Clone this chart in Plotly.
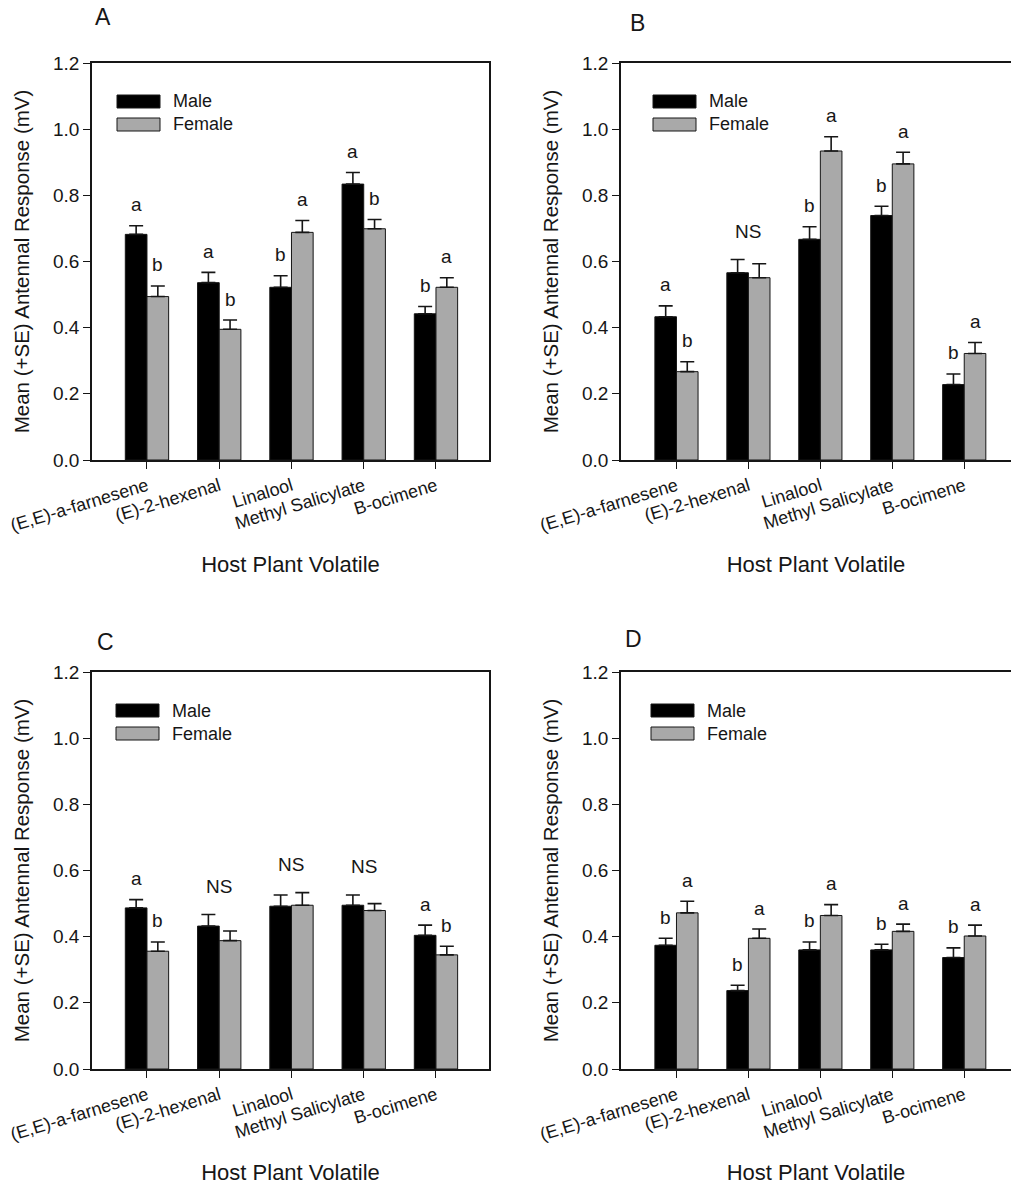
import plotly.graph_objects as go

# ---- data -----------------------------------------------------------------
categories = ["(E,E)-a-farnesene", "(E)-2-hexenal", "Linalool",
              "Methyl Salicylate", "B-ocimene"]
y_ticks = [0.0, 0.2, 0.4, 0.6, 0.8, 1.0, 1.2]
series_names = ["Male", "Female"]
panel_names = ["A", "B", "C", "D"]

a_male = [0.682, 0.536, 0.522, 0.834, 0.442]
a_male_se = [0.026, 0.031, 0.035, 0.035, 0.022]
a_female = [0.494, 0.395, 0.688, 0.699, 0.522]
a_female_se = [0.032, 0.028, 0.036, 0.028, 0.029]
a_male_sig = ["a", "a", "b", "a", "b"]
a_female_sig = ["b", "b", "a", "b", "a"]
a_group_sig = ["", "", "", "", ""]

b_male = [0.433, 0.566, 0.667, 0.739, 0.228]
b_male_se = [0.033, 0.040, 0.038, 0.028, 0.032]
b_female = [0.267, 0.551, 0.934, 0.895, 0.322]
b_female_se = [0.030, 0.042, 0.043, 0.035, 0.033]
b_male_sig = ["a", "", "b", "b", "b"]
b_female_sig = ["b", "", "a", "a", "a"]
b_group_sig = ["", "NS", "", "", ""]

c_male = [0.487, 0.432, 0.492, 0.495, 0.404]
c_male_se = [0.025, 0.035, 0.034, 0.031, 0.031]
c_female = [0.356, 0.388, 0.495, 0.479, 0.345]
c_female_se = [0.028, 0.029, 0.038, 0.021, 0.026]
c_male_sig = ["a", "", "", "", "a"]
c_female_sig = ["b", "", "", "", "b"]
c_group_sig = ["", "NS", "NS", "NS", ""]

d_male = [0.374, 0.237, 0.360, 0.360, 0.337]
d_male_se = [0.021, 0.016, 0.024, 0.017, 0.029]
d_female = [0.472, 0.395, 0.464, 0.416, 0.402]
d_female_se = [0.035, 0.028, 0.033, 0.022, 0.033]
d_male_sig = ["b", "b", "b", "b", "b"]
d_female_sig = ["a", "a", "a", "a", "a"]
d_group_sig = ["", "", "", "", ""]

panels = [
    (a_male, a_male_se, a_female, a_female_se, a_male_sig, a_female_sig, a_group_sig),
    (b_male, b_male_se, b_female, b_female_se, b_male_sig, b_female_sig, b_group_sig),
    (c_male, c_male_se, c_female, c_female_se, c_male_sig, c_female_sig, c_group_sig),
    (d_male, d_male_se, d_female, d_female_se, d_male_sig, d_female_sig, d_group_sig),
]

# ---- layout geometry (pixels) ---------------------------------------------
W, H = 1011, 1185
FONT = "Liberation Sans, Arial, sans-serif"
INK = "#161616"
GREY = "#a9a9a9"

# plot boxes: left, top, right, bottom
boxes = [(92, 63, 489, 460), (621, 63, 1011, 460),
         (92, 672, 489, 1069), (621, 672, 1011, 1069)]
x_ranges = [(-0.761, 4.734), (-0.771, 4.65), (-0.761, 4.734), (-0.771, 4.65)]
letter_pos = [(103, 17), (637, 23), (105, 642), (633, 639)]
legend_left = [25, 32, 24, 30]

BAR_W = 0.3

fig = go.Figure()
annotations = []
shapes = []

for i, (m, mse, f, fse, msig, fsig, gsig) in enumerate(panels):
    n = "" if i == 0 else str(i + 1)
    xa, ya = "x" + n, "y" + n
    left, top, right, bottom = boxes[i]

    fig.add_trace(go.Bar(
        x=list(range(len(categories))), y=m, name=series_names[0],
        width=BAR_W, offset=-BAR_W, xaxis=xa, yaxis=ya, showlegend=False,
        marker=dict(color="#000000", line=dict(color=INK, width=1)),
        error_y=dict(type="data", array=mse, arrayminus=[0] * len(mse),
                     symmetric=False, color=INK, thickness=1.6, width=7),
    ))
    fig.add_trace(go.Bar(
        x=list(range(len(categories))), y=f, name=series_names[1],
        width=BAR_W, offset=0, xaxis=xa, yaxis=ya, showlegend=False,
        marker=dict(color=GREY, line=dict(color=INK, width=1)),
        error_y=dict(type="data", array=fse, arrayminus=[0] * len(fse),
                     symmetric=False, color=INK, thickness=1.6, width=7),
    ))

    # significance letters above each bar's error cap
    for k in range(len(categories)):
        for val, se, lab, dx in ((m[k], mse[k], msig[k], -BAR_W / 2),
                                 (f[k], fse[k], fsig[k], BAR_W / 2)):
            if lab:
                annotations.append(dict(
                    x=k + dx, y=val + se, xref=xa, yref=ya, text=lab,
                    showarrow=False, yanchor="middle", yshift=21,
                    font=dict(family=FONT, size=19, color=INK)))
        if gsig[k]:
            top_val = max(m[k] + mse[k], f[k] + fse[k])
            annotations.append(dict(
                x=k, y=top_val, xref=xa, yref=ya, text=gsig[k],
                showarrow=False, yanchor="middle", yshift=28,
                font=dict(family=FONT, size=19, color=INK)))

    # legend keys
    pw, ph = right - left, bottom - top
    lx0 = legend_left[i]
    for j, (name, col) in enumerate(zip(series_names, ["#000000", GREY])):
        y0 = 32 + j * 23
        shapes.append(dict(
            type="rect", xref=xa + " domain", yref=ya + " domain",
            x0=lx0 / pw, x1=(lx0 + 43) / pw,
            y0=1 - y0 / ph, y1=1 - (y0 + 13) / ph,
            fillcolor=col, line=dict(color=INK, width=1)))
        annotations.append(dict(
            x=(lx0 + 54) / pw, y=1 - (y0 + 6.5) / ph,
            xref=xa + " domain", yref=ya + " domain", text=name,
            showarrow=False, xanchor="left", yanchor="middle",
            font=dict(family=FONT, size=18, color=INK)))

    # panel letter
    lx, ly = letter_pos[i]
    annotations.append(dict(
        x=lx / W, y=1 - ly / H, xref="paper", yref="paper", text=panel_names[i],
        showarrow=False, xanchor="center", yanchor="middle",
        font=dict(family=FONT, size=23, color=INK)))

    right_open = right >= W
    fig.layout["xaxis" + n] = dict(
        domain=[left / W, right / W], anchor=ya, range=list(x_ranges[i]),
        automargin=False,
        tickmode="array", tickvals=list(range(len(categories))),
        ticktext=categories, tickangle=-17, ticks="outside", ticklen=7,
        tickwidth=1.3, tickcolor=INK, showline=True, linecolor=INK,
        linewidth=1.5, mirror=True, showgrid=False, zeroline=False,
        tickfont=dict(family=FONT, size=18, color=INK),
        title=dict(text="Host Plant Volatile", standoff=22,
                   font=dict(family=FONT, size=22, color=INK)),
    )
    fig.layout["yaxis" + n] = dict(
        domain=[1 - bottom / H, 1 - top / H], anchor=xa, range=[0, 1.2],
        automargin=False,
        tickmode="array", tickvals=y_ticks, tickformat=".1f",
        ticks="outside", ticklen=7, tickwidth=1.3, tickcolor=INK,
        showline=True, linecolor=INK, linewidth=1.5,
        mirror=(not right_open), showgrid=False, zeroline=False,
        tickfont=dict(family=FONT, size=19, color=INK),
        title=dict(text="Mean (+SE) Antennal Response (mV)", standoff=18,
                   font=dict(family=FONT, size=20.5, color=INK)),
    )

fig.update_layout(
    width=W, height=H, margin=dict(l=0, r=0, t=0, b=0),
    paper_bgcolor="white", plot_bgcolor="white",
    barmode="overlay", showlegend=False,
    annotations=annotations, shapes=shapes,
)

fig.write_html("out.html")
